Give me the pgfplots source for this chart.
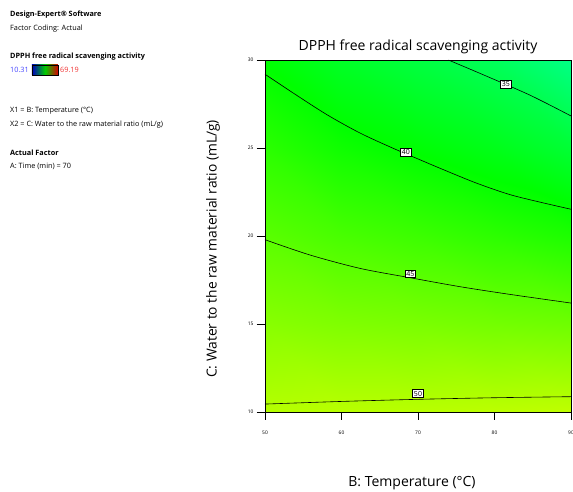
\documentclass[border=0pt]{standalone}
\usepackage{fontspec}
\setmainfont{Open Sans}
\usepackage{pgfplots}
\pgfplotsset{compat=1.18}
\usetikzlibrary{calc}
\definecolor{lblue}{RGB}{70,70,255}
\definecolor{lred}{RGB}{240,50,50}
\begin{document}
\begin{tikzpicture}[x=1pt,y=1pt]
\begin{axis}[
  at={(0pt,0pt)}, anchor=south west,
  width=306pt, height=352pt, scale only axis,
  view={0}{90},
  xmin=50, xmax=90, ymin=10, ymax=30,
  xtick={50,60,70,80,90}, ytick={10,15,20,25,30}, ztick=\empty,
  xtick pos=left, ytick pos=left,
  tick align=outside, major tick length=8pt,
  tick style={black, line width=0.8pt},
  axis line style={black, line width=0.8pt},
  colormap={de}{rgb255(0)=(0,0,255); rgb255(1)=(0,255,255); rgb255(2)=(0,255,0); rgb255(3)=(255,255,0); rgb255(4)=(255,0,0)},
  point meta min=10.31, point meta max=69.19,
  /pgf/number format/assume math mode=true,
  xticklabel style={font=\fontsize{4.9}{5}\selectfont, yshift=-7pt},
  yticklabel style={font=\fontsize{4.9}{5}\selectfont},
  clip=true,
]
\addplot3[surf, shader=interp] table {
x y z
50 10 50.2
60 10 50.4
70 10 50.4
80 10 50.6
90 10 50.8

50 15 47.6
60 15 47.1
70 15 46.8
80 15 46.4
90 15 46.1

50 20 44.9
60 20 43.9
70 20 43.2
80 20 42.3
90 20 41.4

50 25 42.2
60 25 40.6
70 25 39.5
80 25 38.3
90 25 36.7

50 30 39.6
60 30 37.5
70 30 36.0
80 30 34.5
90 30 32.0
};
% contour lines
\addplot3[black, line width=0.6pt, smooth] coordinates {(73.97,30,60) (78.1,29.24,60) (84.6,28.01,60) (90,26.82,60)};
\addplot3[black, line width=0.6pt, smooth] coordinates {(50,29.19,60) (53.70,28.12,60) (58.07,26.90,60) (62.42,25.85,60) (66.77,24.98,60) (70.26,24.33,60) (73.31,23.77,60) (77.67,23.00,60) (82.03,22.35,60) (86.38,21.88,60) (90,21.52,60)};
\addplot3[black, line width=0.6pt, smooth] coordinates {(50,19.79,60) (55.88,18.92,60) (62.42,18.16,60) (68.95,17.63,60) (75.49,17.12,60) (81.90,16.69,60) (90,16.19,60)};
\addplot3[black, line width=0.6pt, smooth] coordinates {(50,10.45,60) (60,10.6,60) (70,10.72,60) (80,10.81,60) (90,10.87,60)};
\begin{scope}[every node/.style={draw, fill=white, inner sep=1.3pt, line width=0.5pt, font=\fontsize{7}{7}\selectfont}]
\node at (axis cs:81.5,28.64,60) {35};
\node at (axis cs:68.4,24.75,60) {40};
\node at (axis cs:69.0,17.85,60) {45};
\node at (axis cs:70.0,11.05,60) {50};
\end{scope}
\coordinate (sw) at (axis cs:50,10,60);
\end{axis}
\begin{scope}[shift={($(sw)+(-265,-80)$)}]
% left info block
\begin{scope}[every node/.style={anchor=west, inner sep=0pt, font=\fontsize{7.3}{8}\selectfont}]
\node[font=\fontsize{7.3}{8}\selectfont\bfseries] at (10,477) {Design-Expert® Software};
\node at (10,463) {Factor Coding: Actual};
\node[font=\fontsize{7.3}{8}\selectfont\bfseries] at (10,435) {DPPH free radical scavenging activity};
\node[text=lblue] at (10,422) {10.31};
\node[text=lred] at (60,422) {69.19};
\node at (10,381) {X1 = B: Temperature (°C)};
\node at (10,367) {X2 = C: Water to the raw material ratio (mL/g)};
\node[font=\fontsize{7.3}{8}\selectfont\bfseries] at (10,339) {Actual Factor};
\node at (10,326) {A: Time (min) = 70};
\end{scope}
\shade[left color=blue!75!black, right color=red!85!black, middle color=green!80!black] (32,417) rectangle (58,427);
\draw[line width=0.6pt] (32,417) rectangle (58,427);
% titles
\node[font=\fontsize{14}{16}\selectfont] at (418,445) {DPPH free radical scavenging activity};
\node[font=\fontsize{14}{16}\selectfont] at (412,9) {B: Temperature (°C)};
\node[font=\fontsize{13.8}{16}\selectfont, rotate=90] at (213,243) {C: Water to the raw material ratio (mL/g)};
\end{scope}
\pgfresetboundingbox
\path[use as bounding box] ($(sw)+(-265,-80)$) rectangle ($(sw)+(308,412)$);
\end{tikzpicture}
\end{document}
